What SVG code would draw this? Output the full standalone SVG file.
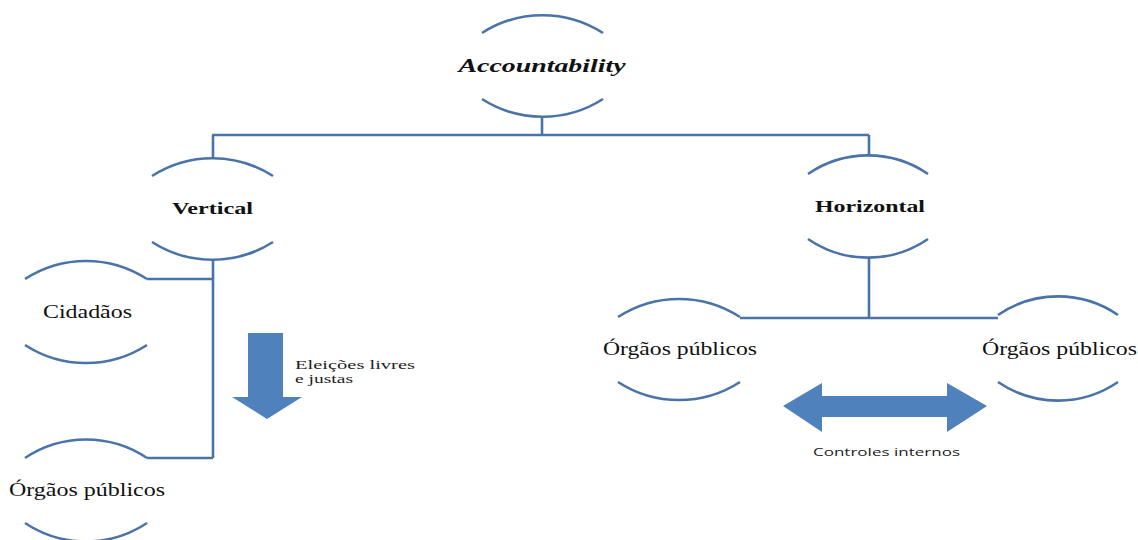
<svg xmlns="http://www.w3.org/2000/svg" width="1138" height="540" viewBox="0 0 1138 540">
<defs>
<style>
.arc{fill:none;stroke:#4a73a9;stroke-width:2.6}
.ln{fill:none;stroke:#4a73a9;stroke-width:2.6}
.big{fill:#4f81bd}
.t,.sm{font-family:'Liberation Serif','Times New Roman',serif}
.t{fill:#111;text-anchor:middle}
.lbl{font-size:19px}
.bi{font-size:19px;font-weight:bold;font-style:italic}
.b{font-size:17px;font-weight:bold}
.sm{font-size:13px;fill:#222}
.sans{font-family:'Open Sans','Liberation Sans',sans-serif;font-size:11.5px;fill:#222;text-anchor:middle}
</style>
</defs>
<rect width="1138" height="540" fill="#fff"/>
<g id="connectors">
<path class="ln" d="M542,117 V135 M212,135 H869 M213,135 V159 M869,135 V155"/>
<path class="ln" d="M213,259 V458 M147,279 H213 M147,458 H213"/>
<path class="ln" d="M869,258 V318 M740,318 H998"/>
</g>
<g id="n-accountability">
<path class="arc" d="M482,33 A112,112 0 0 1 603,33 M482,99 A112,112 0 0 0 603,99"/>
<text class="t bi" x="542" y="72" textLength="167" lengthAdjust="spacingAndGlyphs">Accountability</text>
</g>
<g id="n-vertical">
<path class="arc" d="M152,176 A112,112 0 0 1 273,176 M152,242 A112,112 0 0 0 273,242"/>
<text class="t b" x="212.5" y="214" textLength="81" lengthAdjust="spacingAndGlyphs">Vertical</text>
</g>
<g id="n-horizontal">
<path class="arc" d="M808,174 A106,106 0 0 1 928,174 M808,239 A106,106 0 0 0 928,239"/>
<text class="t b" x="870" y="212" textLength="110" lengthAdjust="spacingAndGlyphs">Horizontal</text>
</g>
<g id="n-cidadaos">
<path class="arc" d="M25,279 A112,112 0 0 1 147,279 M25,345 A112,112 0 0 0 147,345"/>
<text class="t lbl" x="87.5" y="318" textLength="89" lengthAdjust="spacingAndGlyphs">Cidadãos</text>
</g>
<g id="n-orgaos-left">
<path class="arc" d="M25,458 A110,110 0 0 1 147,458 M25,523 A110,110 0 0 0 147,523"/>
<text class="t lbl" x="87" y="496" textLength="156" lengthAdjust="spacingAndGlyphs">Órgãos públicos</text>
</g>
<g id="n-orgaos-mid">
<path class="arc" d="M618,317 A112,112 0 0 1 740,317 M618,382 A112,112 0 0 0 740,382"/>
<text class="t lbl" x="680" y="355" textLength="154" lengthAdjust="spacingAndGlyphs">Órgãos públicos</text>
</g>
<g id="n-orgaos-right">
<path class="arc" d="M998,315 A106,106 0 0 1 1118,315 M998,382 A106,106 0 0 0 1118,382"/>
<text class="t lbl" x="1059.5" y="355" textLength="155" lengthAdjust="spacingAndGlyphs">Órgãos públicos</text>
</g>
<g id="arrow-eleicoes">
<polygon class="big" points="248,333 283,333 283,397 302,397 267,419 232,397 248,397"/>
<text class="sm" x="295" y="369" textLength="120" lengthAdjust="spacingAndGlyphs">Eleições livres</text>
<text class="sm" x="295" y="383" textLength="58" lengthAdjust="spacingAndGlyphs">e justas</text>
</g>
<g id="arrow-controles">
<polygon class="big" points="783,406 822,383 822,396 947,396 947,383 987,406 947,432 947,417 822,417 822,432"/>
<text class="sans" x="886.5" y="456" textLength="147" lengthAdjust="spacingAndGlyphs">Controles internos</text>
</g>
</svg>
